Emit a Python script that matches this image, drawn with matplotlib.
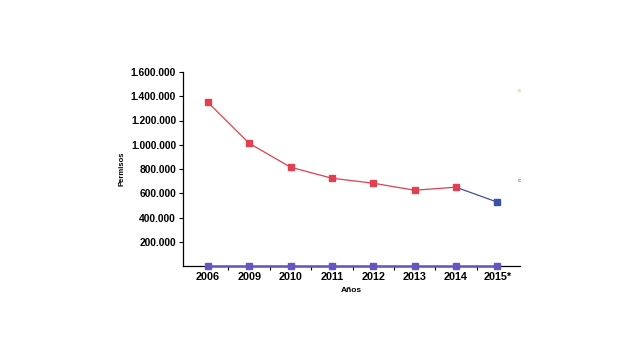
import numpy as np
import matplotlib
matplotlib.use('Agg')
import matplotlib.pyplot as plt
from matplotlib.ticker import FuncFormatter, FixedLocator

# Data
years = ['2006', '2009', '2010', '2011', '2012', '2013', '2014', '2015*']
permisos = [1350000, 1012000, 815000, 724000, 683000, 625000, 650000, 527000]
baseline = [0, 0, 0, 0, 0, 0, 0, 0]
yticks = [200000, 400000, 600000, 800000, 1000000, 1200000, 1400000, 1600000]

plt.rcParams['font.family'] = ['Liberation Sans', 'DejaVu Sans']
plt.rcParams['font.weight'] = 'bold'

fig = plt.figure(figsize=(6.4, 3.6), dpi=100)
ax = fig.add_axes([183 / 640, 1 - 266 / 360, (520 - 183) / 640, (266 - 72) / 360])

x = np.arange(len(years))
red = '#e0404f'
blue = '#3d4fa6'
purple = '#6657c0'

ax.plot(x[:7], permisos[:7], color=red, lw=0.9, marker='s', ms=4.5, zorder=3)
ax.plot(x[6:], permisos[6:], color=blue, lw=0.9, zorder=2)
ax.plot(x[7:], permisos[7:], color=blue, lw=0, marker='s', ms=5, zorder=3)
ax.plot(x, baseline, color=purple, lw=1.8, marker='s', ms=4, zorder=3, clip_on=False)

ax.set_xlim(-0.6, 7.55)
ax.set_ylim(0, 1600000)
ax.set_xticks(x)
ax.set_xticklabels(years, fontsize=7.8, fontweight='bold')
ax.xaxis.set_minor_locator(FixedLocator(x[:-1] + 0.5))
ax.tick_params(axis='x', which='major', length=0, pad=4)
ax.tick_params(axis='x', which='minor', length=3, width=0.8, direction='out')
ax.set_yticks(yticks)
ax.yaxis.set_major_formatter(FuncFormatter(lambda v, p: f'{int(v):,}'.replace(',', '.')))
ax.tick_params(axis='y', labelsize=7.4, length=3, width=0.8, pad=2)

ax.set_ylabel('Permisos', fontsize=5.5, fontweight='bold', labelpad=4)
ax.set_xlabel('Años', fontsize=6, fontweight='bold', labelpad=4)

ax.spines['top'].set_visible(False)
ax.spines['right'].set_visible(False)
ax.spines['left'].set_linewidth(0.9)
ax.spines['bottom'].set_linewidth(0.9)

# faint legend remnants at the right edge
fig.text(519 / 640, 1 - 91 / 360, 'c', fontsize=4, color='#c8d040', ha='center', va='center')
fig.text(519 / 640, 1 - 180 / 360, 'c', fontsize=4, color='#6a80c0', ha='center', va='center')

fig.savefig('out.png', dpi=100)
